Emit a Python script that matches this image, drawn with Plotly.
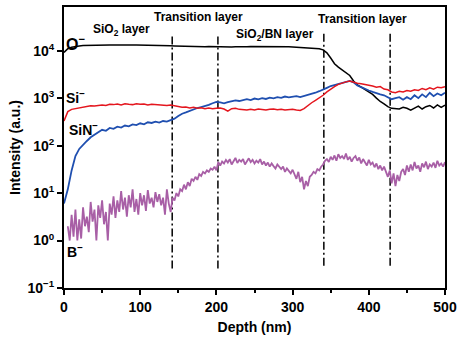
import numpy as np
import plotly.graph_objects as go

# ---------------- data ----------------
depth_5nm = np.arange(0, 500.1, 5)
depth_b = np.arange(5, 500.1, 2.5)

o_minus = [
    9200, 11000, 11800, 12300, 12600, 12800, 12900, 13000, 13000, 13100,
    13100, 13100, 13200, 13100, 13200, 13100, 13100, 13200, 13100, 13100,
    13100, 13000, 13100, 13000, 12900, 12900, 12800, 12800, 12700, 12600,
    12500, 12500, 12400, 12300, 12300, 12200, 12200, 12100, 12200, 12100,
    12200, 12000, 12100, 12000, 12000, 12100, 12000, 12100, 12100, 12200,
    12200, 12300, 12300, 12400, 12400, 12500, 12400, 12400, 12300, 12100,
    12000, 11900, 11800, 11700, 11600, 11400, 11200, 11000, 10400, 9000,
    7000, 5300, 4500, 3900, 3400, 3000, 2300, 1900, 1700, 1500,
    1350, 1200, 1000, 850, 760, 660, 610, 600, 590, 640,
    610, 560, 620, 680, 590, 660, 700, 620, 720, 640,
    710,
]

si_minus = [
    330, 520, 580, 600, 620, 640, 660, 690, 680, 710,
    720, 700, 740, 730, 750, 720, 760, 740, 730, 760,
    740, 750, 720, 740, 730, 710, 720, 700, 720, 690,
    660, 640, 650, 620, 640, 610, 630, 600, 620, 600,
    610, 620, 590, 530, 600, 610, 580, 570, 560, 580,
    560, 590, 570, 560, 580, 590, 570, 580, 560, 570,
    580, 560, 550, 600, 700, 800, 900, 1000, 1150, 1350,
    1550, 1750, 1950, 2100, 2200, 2300, 2150, 2050, 2000, 1950,
    1900, 1800, 1700, 1750, 1550, 1500, 1350, 1300, 1400, 1350,
    1450, 1400, 1500, 1450, 1600, 1500, 1650, 1550, 1700, 1650,
    1750,
]

sin_minus = [
    6, 12, 30, 60, 85, 105, 125, 150, 170, 190,
    215, 205, 235, 225, 250, 240, 265, 255, 280, 270,
    295, 280, 310, 300, 320, 305, 330, 320, 345, 370,
    420, 470, 500, 540, 580, 620, 650, 680, 720, 780,
    830, 810, 780, 820, 860, 900, 870, 920, 950, 910,
    980, 940, 1000, 960, 1020, 990, 1050, 1010, 1080, 1040,
    1080, 1100, 1050, 1100, 1150, 1200, 1300, 1400, 1500, 1650,
    1800, 1900, 2000, 2100, 2200, 2300, 2150, 1850, 1700, 1550,
    1450, 1350, 1250, 1200, 1150, 1050, 950, 1000, 1050, 930,
    1050, 950, 1150, 1000, 1200, 1050, 1300, 1100, 1250, 1150,
    1300,
]

b_minus = [
    2.0, 1.0, 3.5, 1.2, 4.5, 1.0, 2.8, 1.1, 5.0, 2.0, 3.2, 1.5,
    6.5, 2.5, 4.5, 1.0, 5.5, 3.0, 7.0, 2.2, 4.0, 1.0, 6.0, 3.5,
    8.5, 3.0, 7.0, 4.0, 11.0, 4.5, 8.0, 3.2, 9.0, 5.0, 12.0, 4.0,
    7.5, 3.5, 10.0, 5.5, 9.0, 4.2, 11.5, 6.0, 8.0, 5.0, 10.5, 6.5,
    9.5, 5.5, 8.0, 3.5, 12.0, 6.0, 4.0, 8.0, 7.0, 10.0, 8.5, 12.0,
    11.0, 15.0, 12.0, 17.0, 14.0, 20.0, 18.0, 22.0, 19.0, 25.0, 23.0, 28.0,
    26.0, 30.0, 28.0, 33.0, 31.0, 36.0, 30.0, 45.0, 38.0, 46.0, 42.0, 50.0,
    44.0, 52.0, 40.0, 48.0, 55.0, 43.0, 50.0, 46.0, 52.0, 40.0, 47.0, 54.0,
    45.0, 50.0, 42.0, 48.0, 44.0, 52.0, 40.0, 46.0, 38.0, 44.0, 36.0, 42.0,
    37.0, 33.0, 40.0, 35.0, 32.0, 36.0, 28.0, 33.0, 30.0, 26.0, 31.0, 24.0,
    20.0, 28.0, 17.0, 22.0, 12.0, 18.0, 14.0, 22.0, 24.0, 28.0, 26.0, 32.0,
    30.0, 36.0, 40.0, 48.0, 52.0, 45.0, 58.0, 50.0, 62.0, 48.0, 66.0, 55.0,
    60.0, 52.0, 68.0, 50.0, 58.0, 46.0, 55.0, 60.0, 48.0, 56.0, 42.0, 52.0,
    45.0, 38.0, 50.0, 40.0, 44.0, 35.0, 42.0, 32.0, 38.0, 30.0, 36.0, 28.0,
    22.0, 30.0, 16.0, 26.0, 14.0, 24.0, 18.0, 28.0, 32.0, 24.0, 38.0, 28.0,
    40.0, 30.0, 45.0, 33.0, 38.0, 28.0, 42.0, 35.0, 46.0, 32.0, 40.0, 36.0,
    44.0, 34.0, 48.0, 38.0, 42.0, 36.0, 45.0,
]

boundaries = [142, 202, 341, 428]
boundary_low = [10 ** -0.59, 10 ** -0.59, 10 ** -0.53, 10 ** -0.53]
boundary_high = [10 ** 4.36, 10 ** 4.36, 10 ** 4.40, 10 ** 4.40]

y_tickvals = [0.1, 1, 10, 100, 1000, 10000]
y_ticktext = ["10<sup>−1</sup>", "10<sup>0</sup>", "10<sup>1</sup>",
              "10<sup>2</sup>", "10<sup>3</sup>", "10<sup>4</sup>"]

labels = [
    ("O<sup>−</sup>", 15, 10 ** 4.17, 16),
    ("SiO<sub>2</sub> layer", 75, 10 ** 4.44, 12),
    ("Transition layer", 177, 10 ** 4.71, 12),
    ("SiO<sub>2</sub>/BN layer", 277, 10 ** 4.34, 12),
    ("Transition layer", 392, 10 ** 4.67, 12),
    ("Si<sup>−</sup>", 15, 10 ** 3.02, 14),
    ("SiN<sup>−</sup>", 25, 10 ** 2.36, 14),
    ("B<sup>−</sup>", 14, 10 ** -0.21, 14),
]

FONT = "Liberation Sans, Arial, sans-serif"

fig = go.Figure()
for d, lo, hi in zip(boundaries, boundary_low, boundary_high):
    fig.add_trace(go.Scatter(x=[d, d], y=[lo, hi], mode="lines",
                             line=dict(color="black", width=1.5, dash="8px,3px,2px,3px"),
                             showlegend=False, hoverinfo="skip"))

fig.add_trace(go.Scatter(x=depth_b, y=b_minus, mode="lines",
                         line=dict(color="#a85fa6", width=1.8), showlegend=False))
fig.add_trace(go.Scatter(x=depth_5nm, y=o_minus, mode="lines",
                         line=dict(color="black", width=1.5), showlegend=False))
fig.add_trace(go.Scatter(x=depth_5nm, y=sin_minus, mode="lines",
                         line=dict(color="#1f4fb0", width=1.8), showlegend=False))
fig.add_trace(go.Scatter(x=depth_5nm, y=si_minus, mode="lines",
                         line=dict(color="#e4161e", width=1.5), showlegend=False))

for text, x, y, size in labels:
    fig.add_annotation(x=x, y=np.log10(y), xref="x", yref="y", text=text,
                       showarrow=False, font=dict(family=FONT, size=size, color="black", weight="bold"))

fig.update_layout(
    width=462, height=340,
    margin=dict(l=64, r=15, t=5, b=52),
    paper_bgcolor="white", plot_bgcolor="white",
    font=dict(family=FONT, color="black"),
)
fig.update_xaxes(
    range=[0, 500], dtick=100, tick0=0,
    ticks="outside", ticklen=5, tickwidth=2, tickcolor="black",
    minor=dict(ticks="outside", dtick=50, tick0=0, ticklen=3, tickwidth=2, tickcolor="black"),
    showline=True, linewidth=2, linecolor="black", mirror=True,
    showgrid=False, zeroline=False,
    tickfont=dict(family=FONT, size=14, color="black", weight="bold"),
    title=dict(text="Depth (nm)", font=dict(family=FONT, size=14, color="black", weight="bold"), standoff=8),
)
fig.update_yaxes(
    type="log", range=[-1, 4.92],
    tickvals=y_tickvals, ticktext=y_ticktext,
    ticks="outside", ticklen=5, tickwidth=2, tickcolor="black",
    showline=True, linewidth=2, linecolor="black", mirror=True,
    showgrid=False, zeroline=False,
    tickfont=dict(family=FONT, size=14, color="black", weight="bold"),
    title=dict(text="Intensity (a.u.)", font=dict(family=FONT, size=14, color="black", weight="bold"), standoff=4),
)

fig.write_html("out.html")
